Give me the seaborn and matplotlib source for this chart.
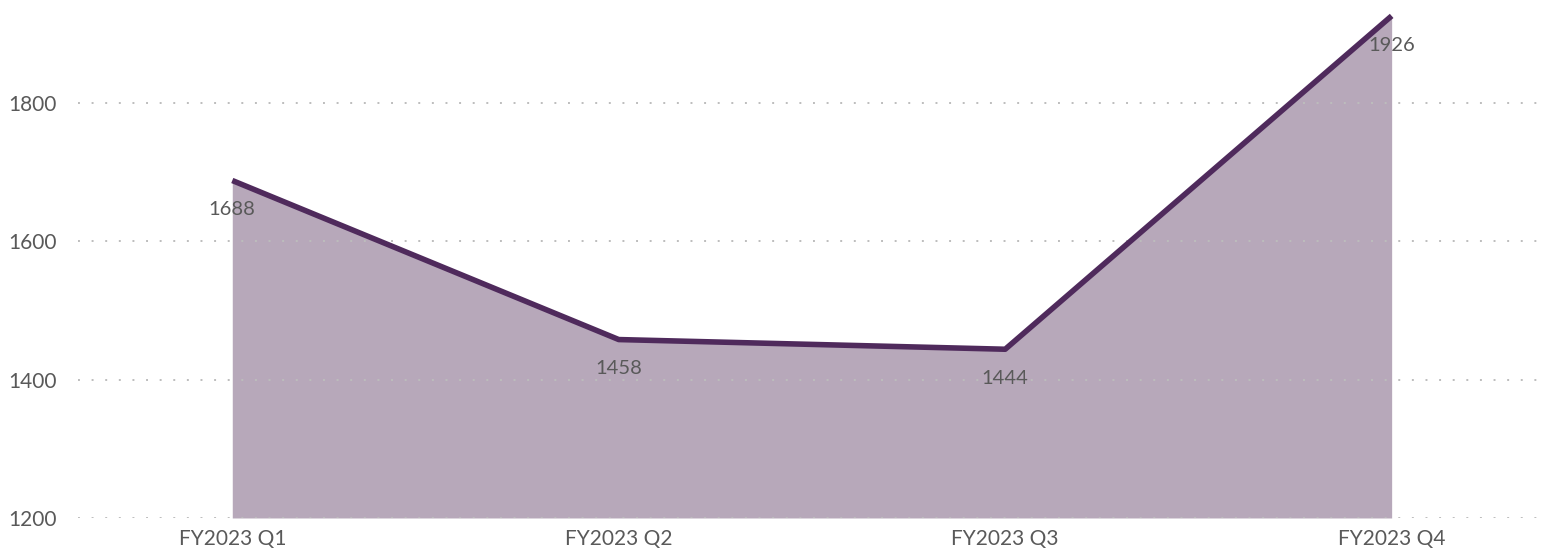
import numpy as np
import pandas as pd
import matplotlib
matplotlib.use("Agg")
import matplotlib.pyplot as plt
import seaborn as sns

# data
quarters = ["FY2023 Q1", "FY2023 Q2", "FY2023 Q3", "FY2023 Q4"]
values = [1688, 1458, 1444, 1926]
y_ticks = [1200, 1400, 1600, 1800]

df = pd.DataFrame({"pos": np.arange(len(quarters)), "value": values})

sns.set_style("white")
plt.rcParams["font.family"] = ["Lato", "DejaVu Sans"]

line_color = "#4f2a5c"
fill_color = "#b7a8ba"
text_color = "#595959"

fig = plt.figure(figsize=(15.54, 5.55), dpi=100)
ax = fig.add_axes([0.050, 0.0667, 0.945, 0.9333])

ax.fill_between(df["pos"], df["value"], 1200, color=fill_color, linewidth=0, zorder=1)
sns.lineplot(data=df, x="pos", y="value", ax=ax, color=line_color, linewidth=4,
             zorder=3, solid_capstyle="butt")

for x, v in zip(df["pos"], df["value"]):
    ax.annotate(str(v), (x, v), xytext=(0, -21), textcoords="offset points",
                ha="center", va="center", fontsize=14.5, color=text_color, zorder=4)

ax.set_xlim(-0.4, 3.4)
ax.set_ylim(1200, 1949)
ax.set_xticks(df["pos"])
ax.set_xticklabels(quarters)
ax.set_yticks(y_ticks)
ax.tick_params(axis="both", length=0, labelsize=15, labelcolor=text_color)
ax.tick_params(axis="y", pad=15)
ax.tick_params(axis="x", pad=8)
ax.set_xlabel("")
ax.set_ylabel("")

ax.set_axisbelow("line")
ax.yaxis.grid(True, linestyle=(0, (1, 6)), color="#bdbdbd", linewidth=1.4)
ax.xaxis.grid(False)
for s in ax.spines.values():
    s.set_visible(False)

fig.savefig("out.png", dpi=100)
